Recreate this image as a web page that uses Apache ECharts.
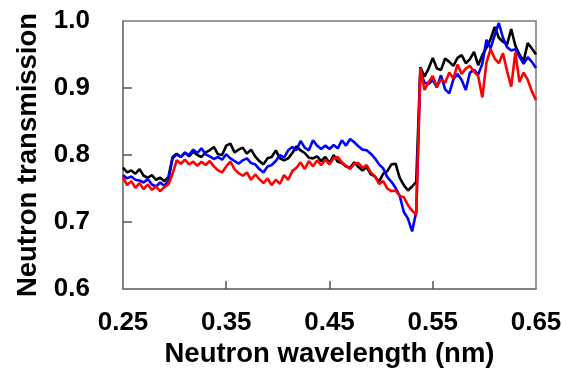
<!DOCTYPE html>
<html>
<head>
<meta charset="utf-8">
<script src="https://cdn.jsdelivr.net/npm/echarts@6/dist/echarts.min.js"></script>
<style>html,body{margin:0;padding:0;background:#fff;}#c{width:563px;height:369px;}</style>
</head>
<body>
<div id="c"></div>
<script>
var wavelength = [0.250,0.254,0.258,0.262,0.266,0.270,0.274,0.278,0.282,0.286,
0.290,0.294,0.298,0.302,0.306,0.310,0.314,0.318,0.322,0.326,
0.330,0.334,0.338,0.342,0.346,0.350,0.354,0.358,0.362,0.366,
0.370,0.374,0.378,0.382,0.386,0.390,0.394,0.398,0.402,0.406,
0.410,0.414,0.418,0.422,0.426,0.430,0.434,0.438,0.442,0.446,
0.450,0.454,0.458,0.462,0.466,0.470,0.474,0.478,0.482,0.486,
0.490,0.494,0.498,0.502,0.506,0.510,0.514,0.518,0.522,0.526,
0.530,0.534,0.538,0.542,0.546,0.550,0.554,0.558,0.562,0.566,
0.570,0.574,0.578,0.582,0.586,0.590,0.594,0.598,0.602,0.606,
0.610,0.614,0.618,0.622,0.626,0.630,0.634,0.638,0.642,0.646,0.650];

var blackSeries = [0.781,0.774,0.777,0.772,0.779,0.769,0.766,0.770,0.763,0.766,
0.761,0.767,0.797,0.802,0.797,0.804,0.798,0.805,0.800,0.797,
0.804,0.807,0.812,0.801,0.800,0.814,0.817,0.804,0.808,0.811,
0.802,0.808,0.798,0.791,0.786,0.795,0.797,0.807,0.795,0.792,
0.795,0.803,0.813,0.807,0.803,0.796,0.795,0.798,0.791,0.797,
0.788,0.800,0.790,0.788,0.783,0.781,0.789,0.782,0.777,0.782,
0.771,0.768,0.760,0.772,0.776,0.786,0.787,0.766,0.755,0.747,
0.753,0.760,0.931,0.917,0.929,0.945,0.929,0.927,0.944,0.939,
0.933,0.945,0.949,0.937,0.943,0.954,0.934,0.949,0.960,0.973,
0.991,0.975,0.969,0.965,0.988,0.963,0.950,0.940,0.967,0.959,0.950];

var blueSeries = [0.770,0.765,0.768,0.763,0.762,0.759,0.764,0.756,0.753,0.759,
0.754,0.762,0.795,0.801,0.797,0.803,0.800,0.808,0.803,0.810,
0.801,0.798,0.794,0.797,0.793,0.801,0.795,0.791,0.787,0.792,
0.795,0.788,0.786,0.779,0.774,0.783,0.785,0.791,0.800,0.796,
0.807,0.812,0.807,0.821,0.811,0.807,0.822,0.814,0.809,0.814,
0.809,0.815,0.810,0.822,0.814,0.824,0.819,0.813,0.808,0.807,
0.802,0.795,0.786,0.780,0.767,0.760,0.751,0.739,0.715,0.705,
0.686,0.715,0.925,0.908,0.906,0.912,0.901,0.919,0.898,0.892,
0.913,0.921,0.912,0.897,0.923,0.927,0.920,0.936,0.972,0.959,
0.979,0.997,0.975,0.961,0.956,0.958,0.947,0.936,0.946,0.939,0.930];

var redSeries = [0.767,0.755,0.761,0.751,0.758,0.749,0.756,0.748,0.753,0.746,
0.752,0.756,0.772,0.792,0.787,0.793,0.786,0.790,0.784,0.790,
0.785,0.791,0.783,0.777,0.774,0.783,0.790,0.779,0.773,0.769,
0.774,0.763,0.771,0.764,0.758,0.765,0.755,0.763,0.757,0.770,
0.763,0.776,0.781,0.789,0.779,0.791,0.783,0.792,0.785,0.793,
0.786,0.795,0.797,0.789,0.784,0.779,0.787,0.788,0.781,0.785,
0.774,0.768,0.757,0.761,0.750,0.746,0.747,0.739,0.737,0.725,
0.717,0.711,0.930,0.897,0.909,0.918,0.902,0.913,0.908,0.923,
0.914,0.935,0.921,0.929,0.933,0.924,0.918,0.886,0.938,0.958,
0.944,0.937,0.952,0.925,0.902,0.953,0.909,0.923,0.912,0.895,0.882];

var xLabelValues = [0.25,0.35,0.45,0.55,0.65];
var xTickValues = [0.35,0.45,0.55];
var yLabelValues = [0.6,0.7,0.8,0.9,1.0];
var yTickValues = [0.7,0.8,0.9];

function pairs(xs, ys){ var out=[]; for(var i=0;i<xs.length;i++){ out.push([xs[i], ys[i]]); } return out; }

var chart = echarts.init(document.getElementById('c'), null, {renderer:'canvas'});
var fontFam = '"Liberation Sans", Arial, sans-serif';
function line(name, color, data){
  return {name:name, type:'line', data:pairs(wavelength, data), showSymbol:false, symbol:'none',
    lineStyle:{color:color, width:2.6}, itemStyle:{color:color}, animation:false, z:2};
}
chart.setOption({
  animation:false,
  backgroundColor:'#fff',
  grid:{left:123, right:27, top:21, bottom:80, containLabel:false, outerBoundsMode:'none',
    show:true, borderColor:'#7a7a7a', borderWidth:1.5, backgroundColor:'transparent'},
  xAxis:{type:'value', min:0.25, max:0.65, interval:0.05,
    name:'Neutron wavelength (nm)', nameLocation:'middle', nameGap:51,
    nameTextStyle:{fontSize:27.5, fontWeight:'bold', color:'#000', fontFamily:fontFam},
    axisLine:{show:true, lineStyle:{color:'#7a7a7a', width:1.5}},
    axisTick:{show:true, inside:true, length:8, customValues:xTickValues, lineStyle:{color:'#555', width:1.5}},
    axisLabel:{customValues:xLabelValues, margin:21, fontSize:26, fontWeight:'bold', color:'#000', fontFamily:fontFam,
      formatter:function(v){return v.toFixed(2);}},
    splitLine:{show:false}},
  yAxis:{type:'value', min:0.6, max:1.0, interval:0.1,
    name:'Neutron transmission', nameLocation:'middle', nameGap:81, nameRotate:90,
    nameTextStyle:{fontSize:27.5, fontWeight:'bold', color:'#000', fontFamily:fontFam},
    axisLine:{show:true, lineStyle:{color:'#7a7a7a', width:1.5}},
    axisTick:{show:true, inside:true, length:9, customValues:yTickValues, lineStyle:{color:'#555', width:1.5}},
    axisLabel:{customValues:yLabelValues, margin:33, fontSize:26, fontWeight:'bold', color:'#000', fontFamily:fontFam,
      formatter:function(v){return v.toFixed(1);}},
    splitLine:{show:false}},
  series:[
    line('Black', '#000000', blackSeries),
    line('Blue', '#0000ff', blueSeries),
    line('Red', '#ff0000', redSeries)
  ]
});
</script>
</body>
</html>
